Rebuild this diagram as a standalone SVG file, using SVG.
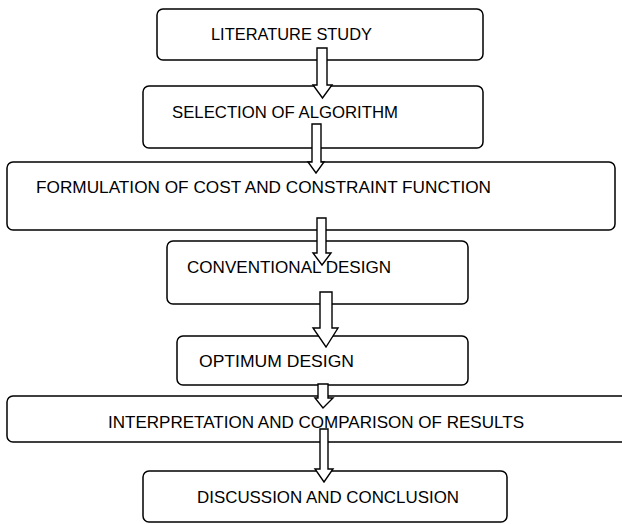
<svg xmlns="http://www.w3.org/2000/svg" width="622" height="524" viewBox="0 0 622 524">
<style>
.box{fill:#fff;stroke:#000;stroke-width:1.5}
.lbl{font-family:"Liberation Sans",Arial,sans-serif;font-size:17px;fill:#000}
.arr{fill:#fff;stroke:#000;stroke-width:1.4;stroke-linejoin:miter}
</style>
<rect width="622" height="524" fill="#fff"/>
<g id="n1"><rect class="box" x="157" y="9" width="326" height="51" rx="6"/><text class="lbl" x="211" y="40" textLength="161" lengthAdjust="spacingAndGlyphs">LITERATURE STUDY</text></g>
<g id="n2"><rect class="box" x="143" y="86" width="340" height="62" rx="6"/><text class="lbl" x="172" y="118" textLength="226" lengthAdjust="spacingAndGlyphs">SELECTION OF ALGORITHM</text></g>
<g id="n3"><rect class="box" x="7" y="162" width="608" height="68" rx="6"/><text class="lbl" x="36" y="193" textLength="455" lengthAdjust="spacingAndGlyphs">FORMULATION OF COST AND CONSTRAINT FUNCTION</text></g>
<g id="n4"><rect class="box" x="167" y="241" width="301" height="63" rx="6"/><text class="lbl" x="187" y="273" textLength="204" lengthAdjust="spacingAndGlyphs">CONVENTIONAL DESIGN</text></g>
<g id="n5"><rect class="box" x="177" y="336" width="291" height="49" rx="6"/><text class="lbl" x="199" y="367" textLength="155" lengthAdjust="spacingAndGlyphs">OPTIMUM DESIGN</text></g>
<g id="n6"><rect class="box" x="7" y="396" width="625" height="46" rx="6"/><text class="lbl" x="108" y="428" textLength="416" lengthAdjust="spacingAndGlyphs">INTERPRETATION AND COMPARISON OF RESULTS</text></g>
<g id="n7"><rect class="box" x="143" y="471" width="364" height="51" rx="6"/><text class="lbl" x="197" y="503" textLength="262" lengthAdjust="spacingAndGlyphs">DISCUSSION AND CONCLUSION</text></g>
<g id="connectors">
<polygon class="arr" points="317,48 327,48 327,85 332,85 322.5,98 313,85 317,85"/>
<polygon class="arr" points="312,124 321,124 321,162 324,162 316,173 308,162 312,162"/>
<polygon class="arr" points="317,218 326,218 326,253 331,253 322,265 313,253 317,253"/>
<polygon class="arr" points="320,292 332,292 332,328 338,328 326,347 313,328 320,328"/>
<polygon class="arr" points="318,384 328,384 328,398 333,398 323,408 315,398 318,398"/>
<polygon class="arr" points="320,429 328,429 328,469 333,469 324,482 315,469 320,469"/>
</g>
</svg>
